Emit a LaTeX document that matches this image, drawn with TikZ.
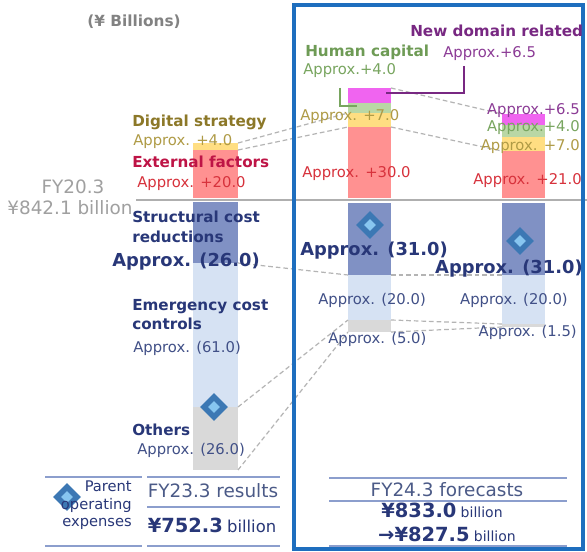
\documentclass[tikz,border=0pt]{standalone}
\usepackage{fontspec}
\setmainfont{DejaVu Sans}
\usetikzlibrary{shapes.geometric,fit}
\newcommand\myfs[1]{\fontsize{#1}{#1}\selectfont}
\definecolor{cnavy}{RGB}{40,55,120}
\definecolor{cnavyr}{RGB}{65,80,135}
\definecolor{cdblue}{RGB}{128,145,196}
\definecolor{clblue}{RGB}{214,226,243}
\definecolor{cgrayb}{RGB}{217,217,217}
\definecolor{credb}{RGB}{255,145,145}
\definecolor{cyelb}{RGB}{255,222,130}
\definecolor{cgrnb}{RGB}{185,215,165}
\definecolor{cmagb}{RGB}{240,100,240}
\definecolor{cframe}{RGB}{30,110,190}
\definecolor{csep}{RGB}{175,175,175}
\definecolor{cdash}{RGB}{180,180,180}
\definecolor{ctab}{RGB}{140,158,205}
\definecolor{dmddark}{RGB}{60,120,180}
\definecolor{dmdlight}{RGB}{135,198,240}
\definecolor{cgoldb}{RGB}{140,120,40}
\definecolor{cgoldr}{RGB}{175,155,70}
\definecolor{ccrim}{RGB}{190,20,70}
\definecolor{credr}{RGB}{215,50,60}
\definecolor{cgrnt}{RGB}{110,155,85}
\definecolor{cgrnr}{RGB}{120,165,95}
\definecolor{cpurb}{RGB}{120,40,130}
\definecolor{cpurr}{RGB}{140,60,150}
\definecolor{cgrayt}{RGB}{160,160,160}
\definecolor{cgrayh}{RGB}{130,130,130}
\definecolor{cslate}{RGB}{75,90,135}
\tikzset{
  seg/.style={inner sep=0pt, outer sep=0pt, draw=none},
  lbl/.style={inner sep=0pt, anchor=base west, font=\myfs{11.1}},
  rlbl/.style={inner sep=0pt, anchor=base east, font=\myfs{11.1}},
  blbl/.style={inner sep=0pt, anchor=base west, font=\bfseries\myfs{11.4}},
  biglbl/.style={inner sep=0pt, font=\bfseries\myfs{13.4}, text=cnavy},
  dline/.style={draw=cdash, dash pattern=on 3.5pt off 2.2pt, line width=0.9pt},
  diamout/.style={diamond, fill=dmddark, draw=none, minimum width=21pt, minimum height=21pt, inner sep=0pt},
  diamin/.style={diamond, fill=dmdlight, draw=none, minimum width=9pt, minimum height=9pt, inner sep=0pt},
  tabline/.style={draw=ctab, line width=1.5pt},
  callout/.style={line width=1.2pt}
}
\begin{document}
\begin{tikzpicture}[x=0.75pt,y=-0.75pt]
\useasboundingbox (0,0) rectangle (587,552);
\fill[white] (0,0) rectangle (587,552);
% ---- left bar
\node[seg, fill=cyelb, fit={(193,143) (238,150)}] (Lyel) {};
\node[seg, fill=credb, fit={(193,150) (238,198)}] (Lred) {};
\node[seg, fill=cdblue, fit={(193,202) (238,263)}] (Ldb) {};
\node[seg, fill=clblue, fit={(193,263) (238,407)}] (Llb) {};
\node[seg, fill=cgrayb, fit={(193,407) (238,470)}] (Lgr) {};
% ---- middle bar
\node[seg, fill=cmagb, fit={(348,88) (391,103)}] (Mmag) {};
\node[seg, fill=cgrnb, fit={(348,103) (391,113)}] (Mgrn) {};
\node[seg, fill=cyelb, fit={(348,113) (391,127)}] (Myel) {};
\node[seg, fill=credb, fit={(348,127) (391,198)}] (Mred) {};
\node[seg, fill=cdblue, fit={(348,203) (391,275)}] (Mdb) {};
\node[seg, fill=clblue, fit={(348,275) (391,320)}] (Mlb) {};
\node[seg, fill=cgrayb, fit={(348,320) (391,332)}] (Mgr) {};
% ---- right bar
\node[seg, fill=cmagb, fit={(502,114) (545,125)}] (Rmag) {};
\node[seg, fill=cgrnb, fit={(502,125) (545,137)}] (Rgrn) {};
\node[seg, fill=cyelb, fit={(502,137) (545,151)}] (Ryel) {};
\node[seg, fill=credb, fit={(502,151) (545,198)}] (Rred) {};
\node[seg, fill=cdblue, fit={(502,203) (545,275)}] (Rdb) {};
\node[seg, fill=clblue, fit={(502,275) (545,324)}] (Rlb) {};
\node[seg, fill=cgrayb, fit={(502,324) (545,327)}] (Rgr) {};
% ---- separator
\coordinate (sepA) at (136,200);
\coordinate (sepB) at (587,200);
\draw[csep, line width=1.8pt] (sepA) -- (sepB);
% ---- dashed connectors
\draw[dline] (Lyel.north east) -- (Myel.north west);
\draw[dline] (Lred.north east) -- (Mred.north west);
\draw[dline] (Mmag.north east) -- (Rmag.north west);
\draw[dline] (Mred.north east) -- (Rred.north west);
\draw[dline] (Ldb.south east) -- (Mdb.south west);
\draw[dline] (Mdb.south east) -- (Rdb.south west);
\draw[dline] (Llb.south east) -- (Mgr.north west);
\draw[dline] (Lgr.south east) -- (Mgr.south west);
\draw[dline] (Mgr.north east) -- (Rgr.north west);
\draw[dline] (Mgr.south east) -- (Rgr.south west);
% ---- frame
\node[draw=cframe, line width=2.5pt, inner sep=0pt, fit={(294,5) (583,549)}] (frame) {};
% ---- callout lines
\coordinate (hc1) at (340,88);
\coordinate (hc2) at (357,106);
\draw[callout, draw=cgrnr] (hc1) |- (hc2);
\coordinate (nd1) at (464,66);
\coordinate (nd2) at (386,93);
\draw[callout, draw=cpurb] (nd1) |- (nd2);
% ---- header
\node[inner sep=0pt, anchor=base, font=\bfseries\myfs{11.5}, text=cgrayh] (unit) at (134,27) {(¥ Billions)};
% ---- left labels
\node[blbl, text=cgoldb] (t1) at (132,127) {Digital strategy};
\node[lbl, text=cgoldr] (t2) at (133,146) {Approx. +4.0};
\node[blbl, text=ccrim] (t3) at (132,168) {External factors};
\node[lbl, text=credr] (t4) at (137,188) {Approx. +20.0};
\node[inner sep=0pt, anchor=base, font=\myfs{13.8}, text=cgrayt] (t5) at (73,194) {FY20.3};
\node[inner sep=0pt, anchor=base, font=\myfs{13.8}, text=cgrayt] (t6) at (70,215) {¥842.1 billion};
\node[blbl, text=cnavy] (t7) at (132,223) {Structural cost};
\node[blbl, text=cnavy] (t8) at (132,243) {reductions};
\node[biglbl, anchor=base west] (t9) at (112,267) {Approx. (26.0)};
\node[blbl, text=cnavy] (t10) at (132,311) {Emergency cost};
\node[blbl, text=cnavy] (t11) at (132,330) {controls};
\node[lbl, text=cnavyr] (t12) at (133,353) {Approx. (61.0)};
\node[blbl, text=cnavy] (t13) at (132,436) {Others};
\node[lbl, text=cnavyr] (t14) at (137,455) {Approx. (26.0)};
% ---- middle labels
\node[blbl, text=cgrnt] (m1) at (305,57) {Human capital};
\node[lbl, text=cgrnr] (m2) at (303,75) {Approx.+4.0};
\node[blbl, text=cpurb] (m3) at (410,37) {New domain related};
\node[lbl, text=cpurr] (m4) at (443,58) {Approx.+6.5};
\node[lbl, text=cgoldr] (m5) at (300,121) {Approx. +7.0};
\node[lbl, text=credr] (m6) at (302,178) {Approx. +30.0};
\node[biglbl, anchor=base west] (m7) at (300,256) {Approx. (31.0)};
\node[lbl, text=cnavyr] (m8) at (318,305) {Approx. (20.0)};
\node[lbl, text=cnavyr] (m9) at (328,344) {Approx. (5.0)};
% ---- right labels
\node[rlbl, text=cpurr] (r1) at (580,115) {Approx.+6.5};
\node[rlbl, text=cgrnr] (r2) at (580,132) {Approx.+4.0};
\node[rlbl, text=cgoldr] (r3) at (580,151) {Approx. +7.0};
\node[rlbl, text=credr] (r4) at (582,185) {Approx. +21.0};
\node[biglbl, anchor=base east] (r5) at (583,274) {Approx. (31.0)};
\node[rlbl, text=cnavyr] (r6) at (568,305) {Approx. (20.0)};
\node[rlbl, text=cnavyr] (r7) at (577,337) {Approx. (1.5)};
% ---- diamonds
\node[diamout] (dL) at (214,407) {};
\node[diamin] (dLi) at (dL.center) {};
\node[diamout] (dM) at (370,225) {};
\node[diamin] (dMi) at (dM.center) {};
\node[diamout] (dR) at (520,241) {};
\node[diamin] (dRi) at (dR.center) {};
% ---- left table
\coordinate (la1) at (45,477); \coordinate (la2) at (142,477);
\coordinate (lb1) at (147,477); \coordinate (lb2) at (280,477);
\coordinate (lc1) at (147,507); \coordinate (lc2) at (280,507);
\coordinate (ld1) at (45,546); \coordinate (ld2) at (142,546);
\coordinate (le1) at (147,546); \coordinate (le2) at (280,546);
\draw[tabline] (la1) -- (la2);
\draw[tabline] (lb1) -- (lb2);
\draw[tabline] (lc1) -- (lc2);
\draw[tabline] (ld1) -- (ld2);
\draw[tabline] (le1) -- (le2);
\node[diamout] (dT) at (67,497) {};
\node[diamin] (dTi) at (dT.center) {};
\node[inner sep=0pt, anchor=base east, font=\myfs{11}, text=cnavy] (p1) at (132,492) {Parent};
\node[inner sep=0pt, anchor=base east, font=\myfs{11}, text=cnavy] (p2) at (132,510) {operating};
\node[inner sep=0pt, anchor=base east, font=\myfs{11}, text=cnavy] (p3) at (132,527) {expenses};
\node[inner sep=0pt, anchor=base, font=\myfs{13.8}, text=cslate] (f1) at (213,498) {FY23.3 results};
\node[inner sep=0pt, anchor=base, text=cnavy] (f2) at (212,533) {{\bfseries\myfs{14.6}¥752.3} {\myfs{12.3}billion}};
% ---- middle table
\coordinate (ma1) at (329,478); \coordinate (ma2) at (567,478);
\coordinate (mb1) at (329,501); \coordinate (mb2) at (567,501);
\coordinate (mc1) at (329,546); \coordinate (mc2) at (567,546);
\draw[tabline] (ma1) -- (ma2);
\draw[tabline] (mb1) -- (mb2);
\draw[tabline] (mc1) -- (mc2);
\node[inner sep=0pt, anchor=base, font=\myfs{13.8}, text=cslate] (g1) at (447,497) {FY24.3 forecasts};
\node[inner sep=0pt, anchor=base, text=cnavy] (g2) at (442,518) {{\bfseries\myfs{14.6}¥833.0} {\myfs{10.5}billion}};
\node[inner sep=0pt, anchor=base, text=cnavy] (g3) at (447,542) {{\bfseries\myfs{14.6}→¥827.5} {\myfs{10.5}billion}};
\end{tikzpicture}
\end{document}
